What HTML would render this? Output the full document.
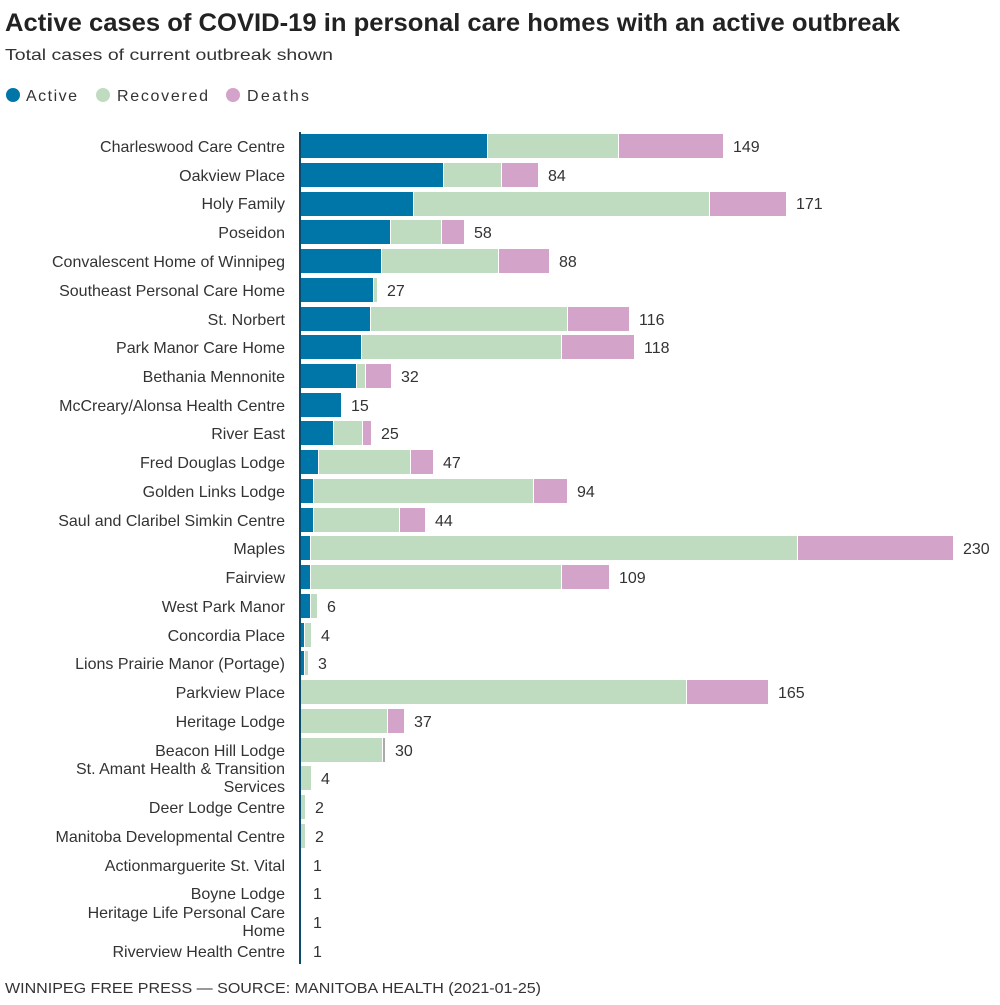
<!DOCTYPE html>
<html><head><meta charset="utf-8"><style>
body{margin:0;background:#fff;width:1000px;height:1000px;overflow:hidden;font-family:"Liberation Sans",sans-serif}
</style></head><body>
<svg width="1000" height="1000" xmlns="http://www.w3.org/2000/svg" font-family="Liberation Sans, sans-serif">
<text x="5" y="31" font-size="25" font-weight="bold" fill="#222" textLength="895" lengthAdjust="spacingAndGlyphs">Active cases of COVID-19 in personal care homes with an active outbreak</text>
<text x="5" y="60" font-size="16" fill="#333" textLength="328" lengthAdjust="spacingAndGlyphs">Total cases of current outbreak shown</text>
<circle cx="13" cy="95" r="7" fill="#0076a8"/><text x="26" y="101" font-size="16" fill="#333" textLength="51">Active</text>
<circle cx="103" cy="95" r="7" fill="#c0dcc0"/><text x="117" y="101" font-size="16" fill="#333" textLength="91">Recovered</text>
<circle cx="233" cy="95" r="7" fill="#d4a3c9"/><text x="247" y="101" font-size="16" fill="#333" textLength="62">Deaths</text>
<g font-size="16" fill="#333" text-anchor="end">
<text x="285" y="152">Charleswood Care Centre</text>
<text x="285" y="181">Oakview Place</text>
<text x="285" y="209">Holy Family</text>
<text x="285" y="238">Poseidon</text>
<text x="285" y="267">Convalescent Home of Winnipeg</text>
<text x="285" y="296">Southeast Personal Care Home</text>
<text x="285" y="325">St. Norbert</text>
<text x="285" y="353">Park Manor Care Home</text>
<text x="285" y="382">Bethania Mennonite</text>
<text x="285" y="411">McCreary/Alonsa Health Centre</text>
<text x="285" y="439">River East</text>
<text x="285" y="468">Fred Douglas Lodge</text>
<text x="285" y="497">Golden Links Lodge</text>
<text x="285" y="526">Saul and Claribel Simkin Centre</text>
<text x="285" y="554">Maples</text>
<text x="285" y="583">Fairview</text>
<text x="285" y="612">West Park Manor</text>
<text x="285" y="641">Concordia Place</text>
<text x="285" y="669">Lions Prairie Manor (Portage)</text>
<text x="285" y="698">Parkview Place</text>
<text x="285" y="727">Heritage Lodge</text>
<text x="285" y="756">Beacon Hill Lodge</text>
<text x="285" y="774">St. Amant Health &amp; Transition</text>
<text x="285" y="792">Services</text>
<text x="285" y="813">Deer Lodge Centre</text>
<text x="285" y="842">Manitoba Developmental Centre</text>
<text x="285" y="871">Actionmarguerite St. Vital</text>
<text x="285" y="899">Boyne Lodge</text>
<text x="285" y="918">Heritage Life Personal Care</text>
<text x="285" y="936">Home</text>
<text x="285" y="957">Riverview Health Centre</text>
</g>
<g>
<rect x="300" y="134" width="187" height="24" fill="#0076a8"/><rect x="488" y="134" width="130" height="24" fill="#c0dcc0"/><rect x="619" y="134" width="104" height="24" fill="#d4a3c9"/>
<rect x="300" y="163" width="143" height="24" fill="#0076a8"/><rect x="444" y="163" width="57" height="24" fill="#c0dcc0"/><rect x="502" y="163" width="36" height="24" fill="#d4a3c9"/>
<rect x="300" y="192" width="113" height="24" fill="#0076a8"/><rect x="414" y="192" width="295" height="24" fill="#c0dcc0"/><rect x="710" y="192" width="76" height="24" fill="#d4a3c9"/>
<rect x="300" y="220" width="90" height="24" fill="#0076a8"/><rect x="391" y="220" width="50" height="24" fill="#c0dcc0"/><rect x="442" y="220" width="22" height="24" fill="#d4a3c9"/>
<rect x="300" y="249" width="81" height="24" fill="#0076a8"/><rect x="382" y="249" width="116" height="24" fill="#c0dcc0"/><rect x="499" y="249" width="50" height="24" fill="#d4a3c9"/>
<rect x="300" y="278" width="73" height="24" fill="#0076a8"/><rect x="374" y="278" width="3" height="24" fill="#c0dcc0"/>
<rect x="300" y="307" width="70" height="24" fill="#0076a8"/><rect x="371" y="307" width="196" height="24" fill="#c0dcc0"/><rect x="568" y="307" width="61" height="24" fill="#d4a3c9"/>
<rect x="300" y="335" width="61" height="24" fill="#0076a8"/><rect x="362" y="335" width="199" height="24" fill="#c0dcc0"/><rect x="562" y="335" width="72" height="24" fill="#d4a3c9"/>
<rect x="300" y="364" width="56" height="24" fill="#0076a8"/><rect x="357" y="364" width="8" height="24" fill="#c0dcc0"/><rect x="366" y="364" width="25" height="24" fill="#d4a3c9"/>
<rect x="300" y="393" width="41" height="24" fill="#0076a8"/>
<rect x="300" y="421" width="33" height="24" fill="#0076a8"/><rect x="334" y="421" width="28" height="24" fill="#c0dcc0"/><rect x="363" y="421" width="8" height="24" fill="#d4a3c9"/>
<rect x="300" y="450" width="18" height="24" fill="#0076a8"/><rect x="319" y="450" width="91" height="24" fill="#c0dcc0"/><rect x="411" y="450" width="22" height="24" fill="#d4a3c9"/>
<rect x="300" y="479" width="13" height="24" fill="#0076a8"/><rect x="314" y="479" width="219" height="24" fill="#c0dcc0"/><rect x="534" y="479" width="33" height="24" fill="#d4a3c9"/>
<rect x="300" y="508" width="13" height="24" fill="#0076a8"/><rect x="314" y="508" width="85" height="24" fill="#c0dcc0"/><rect x="400" y="508" width="25" height="24" fill="#d4a3c9"/>
<rect x="300" y="536" width="10" height="24" fill="#0076a8"/><rect x="311" y="536" width="486" height="24" fill="#c0dcc0"/><rect x="798" y="536" width="155" height="24" fill="#d4a3c9"/>
<rect x="300" y="565" width="10" height="24" fill="#0076a8"/><rect x="311" y="565" width="250" height="24" fill="#c0dcc0"/><rect x="562" y="565" width="47" height="24" fill="#d4a3c9"/>
<rect x="300" y="594" width="10" height="24" fill="#0076a8"/><rect x="311" y="594" width="6" height="24" fill="#c0dcc0"/>
<rect x="300" y="623" width="4" height="24" fill="#0076a8"/><rect x="305" y="623" width="6" height="24" fill="#c0dcc0"/>
<rect x="300" y="651" width="4" height="24" fill="#0076a8"/><rect x="305" y="651" width="3" height="24" fill="#c0dcc0"/>
<rect x="301" y="680" width="385" height="24" fill="#c0dcc0"/><rect x="687" y="680" width="81" height="24" fill="#d4a3c9"/>
<rect x="301" y="709" width="86" height="24" fill="#c0dcc0"/><rect x="388" y="709" width="16" height="24" fill="#d4a3c9"/>
<rect x="301" y="738" width="81" height="24" fill="#c0dcc0"/><rect x="383" y="738" width="2" height="24" fill="#aaa"/>
<rect x="301" y="766" width="10" height="24" fill="#c0dcc0"/>
<rect x="301" y="795" width="4" height="24" fill="#c0dcc0"/>
<rect x="301" y="824" width="4" height="24" fill="#c0dcc0"/>
<rect x="299" y="132" width="2" height="832" fill="#0b4a6a"/>
</g>
<g font-size="16" fill="#333">
<text x="733" y="152">149</text><text x="548" y="181">84</text><text x="796" y="209">171</text>
<text x="474" y="238">58</text><text x="559" y="267">88</text><text x="387" y="296">27</text>
<text x="639" y="325">116</text><text x="644" y="353">118</text><text x="401" y="382">32</text>
<text x="351" y="411">15</text><text x="381" y="439">25</text><text x="443" y="468">47</text>
<text x="577" y="497">94</text><text x="435" y="526">44</text><text x="963" y="554">230</text>
<text x="619" y="583">109</text><text x="327" y="612">6</text><text x="321" y="641">4</text>
<text x="318" y="669">3</text><text x="778" y="698">165</text><text x="414" y="727">37</text>
<text x="395" y="756">30</text><text x="321" y="784">4</text><text x="315" y="813">2</text>
<text x="315" y="842">2</text><text x="313" y="871">1</text><text x="313" y="899">1</text>
<text x="313" y="928">1</text><text x="313" y="957">1</text>
</g>
<text x="5" y="993" font-size="15" fill="#333" textLength="536" lengthAdjust="spacingAndGlyphs">WINNIPEG FREE PRESS — SOURCE: MANITOBA HEALTH (2021-01-25)</text>
</svg>
</body></html>
